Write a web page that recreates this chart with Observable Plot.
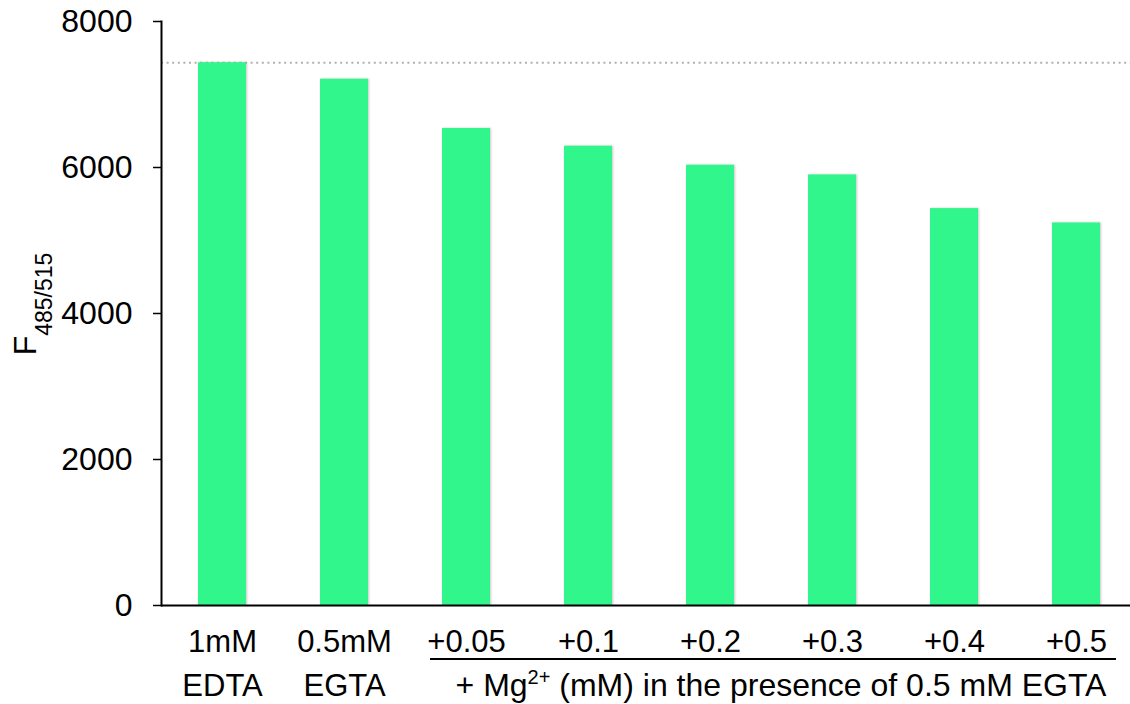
<!DOCTYPE html>
<html><head><meta charset="utf-8">
<script src="https://cdn.jsdelivr.net/npm/d3@7"></script>
<script src="https://cdn.jsdelivr.net/npm/@observablehq/plot@0.6"></script>
<style>
body{margin:0;background:#fff;}
#chart svg g[aria-label="bar"] rect{filter:drop-shadow(1.5px 0.5px 1px rgba(0,0,0,0.22));}
</style>
</head><body><div id="chart"></div>
<script>
const categories = ["1mM EDTA", "0.5mM EGTA", "+0.05", "+0.1", "+0.2", "+0.3", "+0.4", "+0.5"];
const labelTop = ["1mM", "0.5mM", "+0.05", "+0.1", "+0.2", "+0.3", "+0.4", "+0.5"];
const labelBottom = ["EDTA", "EGTA", "", "", "", "", "", ""];
const values = [7435, 7209, 6534, 6291, 6031, 5898, 5437, 5240];
const yTicks = [0, 2000, 4000, 6000, 8000];
const groupStart = "+0.05";
const groupEnd = "+0.5";
const groupLabel = ["+ Mg", "2+", " (mM) in the presence of 0.5 mM EGTA"];
const yLabel = ["F", "485/515"];

const FONT = '"Liberation Sans", Arial, Helvetica, sans-serif';
const data = categories.map((c, i) => ({cat: c, value: values[i], top: labelTop[i], bottom: labelBottom[i]}));

const plot = Plot.plot({
  width: 1130, height: 704,
  marginTop: 21, marginBottom: 99, marginLeft: 161, marginRight: 0,
  style: {fontFamily: FONT, fontSize: "31px", background: "#fff", color: "#000"},
  x: {domain: categories, range: [161, 1137], paddingInner: 0.607, paddingOuter: 0.3035, align: 0.5, axis: null},
  y: {domain: [0, 8000], axis: null},
  marks: [
    Plot.ruleY([values[0]], {stroke: "#b0b0b0", strokeWidth: 2, strokeDasharray: "2,3.6"}),
    Plot.barY(data, {x: "cat", y: "value", fill: "#30f68c"}),
    Plot.ruleY([0], {stroke: "#000", strokeWidth: 2}),
    Plot.frame({anchor: "left", stroke: "#000", strokeWidth: 2}),
    Plot.axisY({ticks: yTicks, tickSize: 8, tickPadding: 21, fontSize: 32, label: null, tickFormat: d => String(d), strokeWidth: 1.5}),
    Plot.axisX({tickSize: 0, tickPadding: 24, fontSize: 31, label: null, tickFormat: c => labelTop[categories.indexOf(c)]}),
    Plot.text(data, {x: "cat", text: "bottom", frameAnchor: "bottom", dy: 81, lineAnchor: "middle", fontSize: 31})
  ]
});
document.getElementById("chart").appendChild(plot);

const svg = d3.select(plot);
const xs = plot.scale("x");
const ys = plot.scale("y");
const bw = xs.bandwidth;
const y0 = ys.apply(0);
const cStart = xs.apply(groupStart) + bw / 2;
const cEnd = xs.apply(groupEnd) + bw / 2;

svg.append("line")
  .attr("x1", cStart - 36).attr("x2", cEnd + 40)
  .attr("y1", y0 + 54).attr("y2", y0 + 54)
  .attr("stroke", "#000").attr("stroke-width", 2);

const g = svg.append("text")
  .attr("x", (cStart - 36 + cEnd + 40) / 2 + 8)
  .attr("y", y0 + 91)
  .attr("text-anchor", "middle")
  .attr("font-family", FONT)
  .attr("font-size", 32)
  .attr("fill", "#000");
g.append("tspan").text(groupLabel[0]);
g.append("tspan").attr("font-size", 20).attr("dy", -12).text(groupLabel[1]);
g.append("tspan").attr("dy", 12).text(groupLabel[2]);

const yl = svg.append("text")
  .attr("transform", `translate(36,${(ys.apply(4000) - 9)}) rotate(-90)`)
  .attr("text-anchor", "middle")
  .attr("font-family", FONT)
  .attr("fill", "#000");
yl.append("tspan").attr("font-size", 32).text(yLabel[0]);
yl.append("tspan").attr("font-size", 23).attr("dy", 16).text(yLabel[1]);
</script>
</body></html>
